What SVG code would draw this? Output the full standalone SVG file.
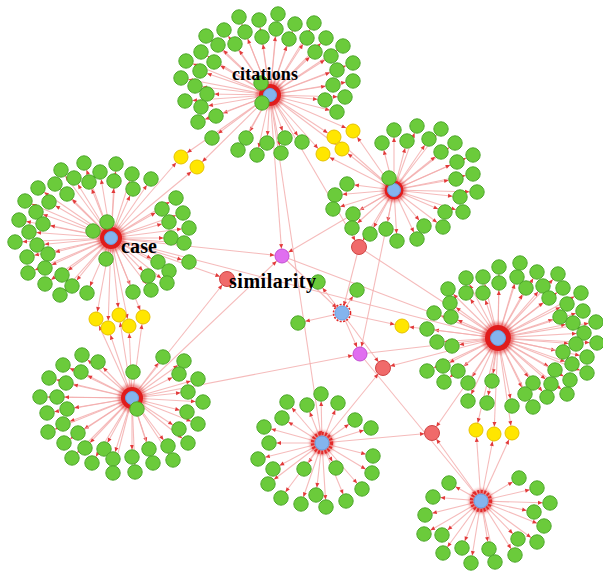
<svg xmlns="http://www.w3.org/2000/svg" width="603" height="572" viewBox="0 0 603 572">
<defs>
<marker id="ar" markerUnits="userSpaceOnUse" markerWidth="5" markerHeight="4" refX="12" refY="2" orient="auto" overflow="visible"><path d="M0,0L4.5,2L0,4z" fill="#e23a3a"/></marker>
<filter id="bl" x="-50%" y="-50%" width="200%" height="200%"><feGaussianBlur stdDeviation="1.6"/></filter>
</defs>
<style>
.e line{stroke:#f3aaaa;stroke-width:1.1;stroke-opacity:.8;marker-end:url(#ar)}
.lf circle{fill:#6bcb3b;stroke:#4ea82b;stroke-width:1;r:7.2px}
.y circle{fill:#ffe600;stroke:#e6c200;stroke-width:1}
.m circle{fill:#e06ef0;stroke:#c24fd2;stroke-width:1}
.r circle{fill:#f06a6a;stroke:#cf4545;stroke-width:1}
.halo{fill:#d22;opacity:.5;filter:url(#bl)}
.ring{fill:#e01c1c}
.dring{fill:none;stroke:#e22a2a;stroke-width:3.5;stroke-dasharray:2 1.4}
.core{fill:#84b4ee;stroke:#6a9ee0;stroke-width:1}
text{font-family:"Liberation Serif","Times New Roman",serif;font-weight:bold;fill:#000}
</style>
<rect width="603" height="572" fill="#fff"/>
<g id="connectors" class="e">
<line x1="270" y1="95" x2="278" y2="14"/><line x1="270" y1="95" x2="239" y2="17"/><line x1="270" y1="95" x2="259" y2="20"/><line x1="270" y1="95" x2="295" y2="24"/><line x1="270" y1="95" x2="314" y2="23"/><line x1="270" y1="95" x2="224" y2="30"/><line x1="270" y1="95" x2="245" y2="32"/><line x1="270" y1="95" x2="276" y2="29"/><line x1="270" y1="95" x2="206" y2="36"/><line x1="270" y1="95" x2="262" y2="37"/><line x1="270" y1="95" x2="289" y2="39"/><line x1="270" y1="95" x2="307" y2="38"/><line x1="270" y1="95" x2="326" y2="38"/><line x1="270" y1="95" x2="218" y2="45"/><line x1="270" y1="95" x2="235" y2="44"/><line x1="270" y1="95" x2="201" y2="52"/><line x1="270" y1="95" x2="315" y2="52"/><line x1="270" y1="95" x2="343" y2="46"/><line x1="270" y1="95" x2="186" y2="61"/><line x1="270" y1="95" x2="214" y2="62"/><line x1="270" y1="95" x2="331" y2="56"/><line x1="270" y1="95" x2="353" y2="63"/><line x1="270" y1="95" x2="200" y2="71"/><line x1="270" y1="95" x2="337" y2="70"/><line x1="270" y1="95" x2="181" y2="78"/><line x1="270" y1="95" x2="195" y2="86"/><line x1="270" y1="95" x2="353" y2="81"/><line x1="270" y1="95" x2="333" y2="85"/><line x1="270" y1="95" x2="207" y2="94"/><line x1="270" y1="95" x2="185" y2="101"/><line x1="270" y1="95" x2="201" y2="107"/><line x1="270" y1="95" x2="325" y2="100"/><line x1="270" y1="95" x2="345" y2="97"/><line x1="270" y1="95" x2="216" y2="116"/><line x1="270" y1="95" x2="198" y2="122"/><line x1="270" y1="95" x2="337" y2="112"/><line x1="270" y1="95" x2="212" y2="138"/><line x1="270" y1="95" x2="246" y2="138"/><line x1="270" y1="95" x2="267" y2="143"/><line x1="270" y1="95" x2="285" y2="138"/><line x1="270" y1="95" x2="302" y2="142"/><line x1="270" y1="95" x2="238" y2="150"/><line x1="270" y1="95" x2="257" y2="155"/><line x1="270" y1="95" x2="281" y2="153"/>
<line x1="111" y1="238" x2="61" y2="170"/><line x1="111" y1="238" x2="84" y2="163"/><line x1="111" y1="238" x2="116" y2="164"/><line x1="111" y1="238" x2="100" y2="172"/><line x1="111" y1="238" x2="74" y2="178"/><line x1="111" y1="238" x2="89" y2="182"/><line x1="111" y1="238" x2="114" y2="181"/><line x1="111" y1="238" x2="132" y2="174"/><line x1="111" y1="238" x2="151" y2="179"/><line x1="111" y1="238" x2="55" y2="184"/><line x1="111" y1="238" x2="38" y2="188"/><line x1="111" y1="238" x2="67" y2="194"/><line x1="111" y1="238" x2="133" y2="189"/><line x1="111" y1="238" x2="49" y2="202"/><line x1="111" y1="238" x2="25" y2="201"/><line x1="111" y1="238" x2="176" y2="198"/><line x1="111" y1="238" x2="162" y2="209"/><line x1="111" y1="238" x2="36" y2="212"/><line x1="111" y1="238" x2="183" y2="213"/><line x1="111" y1="238" x2="19" y2="220"/><line x1="111" y1="238" x2="43" y2="224"/><line x1="111" y1="238" x2="169" y2="222"/><line x1="111" y1="238" x2="29" y2="232"/><line x1="111" y1="238" x2="189" y2="228"/><line x1="111" y1="238" x2="15" y2="242"/><line x1="111" y1="238" x2="37" y2="245"/><line x1="111" y1="238" x2="171" y2="238"/><line x1="111" y1="238" x2="184" y2="243"/><line x1="111" y1="238" x2="27" y2="257"/><line x1="111" y1="238" x2="48" y2="254"/><line x1="111" y1="238" x2="158" y2="262"/><line x1="111" y1="238" x2="189" y2="262"/><line x1="111" y1="238" x2="45" y2="268"/><line x1="111" y1="238" x2="28" y2="273"/><line x1="111" y1="238" x2="62" y2="275"/><line x1="111" y1="238" x2="169" y2="271"/><line x1="111" y1="238" x2="148" y2="276"/><line x1="111" y1="238" x2="72" y2="286"/><line x1="111" y1="238" x2="45" y2="284"/><line x1="111" y1="238" x2="167" y2="283"/><line x1="111" y1="238" x2="133" y2="292"/><line x1="111" y1="238" x2="151" y2="290"/><line x1="111" y1="238" x2="60" y2="295"/><line x1="111" y1="238" x2="87" y2="293"/>
<line x1="394" y1="190" x2="394" y2="130"/><line x1="394" y1="190" x2="417" y2="126"/><line x1="394" y1="190" x2="441" y2="129"/><line x1="394" y1="190" x2="382" y2="143"/><line x1="394" y1="190" x2="407" y2="141"/><line x1="394" y1="190" x2="429" y2="139"/><line x1="394" y1="190" x2="455" y2="143"/><line x1="394" y1="190" x2="441" y2="152"/><line x1="394" y1="190" x2="473" y2="155"/><line x1="394" y1="190" x2="457" y2="162"/><line x1="394" y1="190" x2="473" y2="174"/><line x1="394" y1="190" x2="456" y2="179"/><line x1="394" y1="190" x2="347" y2="184"/><line x1="394" y1="190" x2="335" y2="195"/><line x1="394" y1="190" x2="477" y2="192"/><line x1="394" y1="190" x2="460" y2="197"/><line x1="394" y1="190" x2="333" y2="209"/><line x1="394" y1="190" x2="353" y2="214"/><line x1="394" y1="190" x2="445" y2="212"/><line x1="394" y1="190" x2="463" y2="212"/><line x1="394" y1="190" x2="352" y2="228"/><line x1="394" y1="190" x2="370" y2="234"/><line x1="394" y1="190" x2="386" y2="229"/><line x1="394" y1="190" x2="397" y2="241"/><line x1="394" y1="190" x2="417" y2="239"/><line x1="394" y1="190" x2="424" y2="226"/><line x1="394" y1="190" x2="443" y2="227"/>
<line x1="498" y1="338" x2="499" y2="267"/><line x1="498" y1="338" x2="520" y2="263"/><line x1="498" y1="338" x2="466" y2="278"/><line x1="498" y1="338" x2="483" y2="277"/><line x1="498" y1="338" x2="499" y2="283"/><line x1="498" y1="338" x2="517" y2="277"/><line x1="498" y1="338" x2="537" y2="272"/><line x1="498" y1="338" x2="558" y2="274"/><line x1="498" y1="338" x2="448" y2="289"/><line x1="498" y1="338" x2="466" y2="293"/><line x1="498" y1="338" x2="483" y2="293"/><line x1="498" y1="338" x2="526" y2="288"/><line x1="498" y1="338" x2="543" y2="286"/><line x1="498" y1="338" x2="563" y2="288"/><line x1="498" y1="338" x2="581" y2="293"/><line x1="498" y1="338" x2="450" y2="303"/><line x1="498" y1="338" x2="549" y2="298"/><line x1="498" y1="338" x2="567" y2="304"/><line x1="498" y1="338" x2="434" y2="313"/><line x1="498" y1="338" x2="451" y2="317"/><line x1="498" y1="338" x2="560" y2="317"/><line x1="498" y1="338" x2="583" y2="311"/><line x1="498" y1="338" x2="573" y2="323"/><line x1="498" y1="338" x2="596" y2="322"/><line x1="498" y1="338" x2="427" y2="329"/><line x1="498" y1="338" x2="584" y2="333"/><line x1="498" y1="338" x2="437" y2="342"/><line x1="498" y1="338" x2="452" y2="346"/><line x1="498" y1="338" x2="576" y2="344"/><line x1="498" y1="338" x2="597" y2="343"/><line x1="498" y1="338" x2="563" y2="352"/><line x1="498" y1="338" x2="587" y2="357"/><line x1="498" y1="338" x2="427" y2="371"/><line x1="498" y1="338" x2="443" y2="366"/><line x1="498" y1="338" x2="458" y2="371"/><line x1="498" y1="338" x2="572" y2="364"/><line x1="498" y1="338" x2="555" y2="370"/><line x1="498" y1="338" x2="587" y2="373"/><line x1="498" y1="338" x2="444" y2="382"/><line x1="498" y1="338" x2="468" y2="383"/><line x1="498" y1="338" x2="492" y2="381"/><line x1="498" y1="338" x2="533" y2="383"/><line x1="498" y1="338" x2="551" y2="384"/><line x1="498" y1="338" x2="570" y2="380"/><line x1="498" y1="338" x2="468" y2="401"/><line x1="498" y1="338" x2="487" y2="403"/><line x1="498" y1="338" x2="512" y2="406"/><line x1="498" y1="338" x2="525" y2="394"/><line x1="498" y1="338" x2="547" y2="397"/><line x1="498" y1="338" x2="567" y2="394"/><line x1="498" y1="338" x2="533" y2="407"/>
<line x1="132" y1="398" x2="82" y2="355"/><line x1="132" y1="398" x2="98" y2="362"/><line x1="132" y1="398" x2="63" y2="365"/><line x1="132" y1="398" x2="81" y2="372"/><line x1="132" y1="398" x2="163" y2="357"/><line x1="132" y1="398" x2="184" y2="361"/><line x1="132" y1="398" x2="49" y2="378"/><line x1="132" y1="398" x2="66" y2="383"/><line x1="132" y1="398" x2="179" y2="374"/><line x1="132" y1="398" x2="198" y2="379"/><line x1="132" y1="398" x2="40" y2="397"/><line x1="132" y1="398" x2="57" y2="397"/><line x1="132" y1="398" x2="188" y2="392"/><line x1="132" y1="398" x2="203" y2="402"/><line x1="132" y1="398" x2="47" y2="413"/><line x1="132" y1="398" x2="67" y2="409"/><line x1="132" y1="398" x2="187" y2="412"/><line x1="132" y1="398" x2="63" y2="424"/><line x1="132" y1="398" x2="48" y2="432"/><line x1="132" y1="398" x2="78" y2="433"/><line x1="132" y1="398" x2="198" y2="424"/><line x1="132" y1="398" x2="179" y2="429"/><line x1="132" y1="398" x2="64" y2="443"/><line x1="132" y1="398" x2="85" y2="448"/><line x1="132" y1="398" x2="104" y2="449"/><line x1="132" y1="398" x2="168" y2="446"/><line x1="132" y1="398" x2="188" y2="443"/><line x1="132" y1="398" x2="72" y2="458"/><line x1="132" y1="398" x2="92" y2="463"/><line x1="132" y1="398" x2="113" y2="459"/><line x1="132" y1="398" x2="132" y2="457"/><line x1="132" y1="398" x2="149" y2="449"/><line x1="132" y1="398" x2="153" y2="463"/><line x1="132" y1="398" x2="173" y2="460"/><line x1="132" y1="398" x2="113" y2="473"/><line x1="132" y1="398" x2="135" y2="472"/>
<line x1="322" y1="443" x2="321" y2="394"/><line x1="322" y1="443" x2="287" y2="402"/><line x1="322" y1="443" x2="307" y2="405"/><line x1="322" y1="443" x2="338" y2="403"/><line x1="322" y1="443" x2="282" y2="418"/><line x1="322" y1="443" x2="355" y2="420"/><line x1="322" y1="443" x2="264" y2="427"/><line x1="322" y1="443" x2="371" y2="428"/><line x1="322" y1="443" x2="269" y2="443"/><line x1="322" y1="443" x2="258" y2="459"/><line x1="322" y1="443" x2="373" y2="456"/><line x1="322" y1="443" x2="273" y2="469"/><line x1="322" y1="443" x2="304" y2="469"/><line x1="322" y1="443" x2="336" y2="468"/><line x1="322" y1="443" x2="372" y2="473"/><line x1="322" y1="443" x2="268" y2="484"/><line x1="322" y1="443" x2="362" y2="489"/><line x1="322" y1="443" x2="281" y2="498"/><line x1="322" y1="443" x2="316" y2="495"/><line x1="322" y1="443" x2="346" y2="501"/><line x1="322" y1="443" x2="301" y2="504"/><line x1="322" y1="443" x2="326" y2="507"/>
<line x1="481" y1="501" x2="449" y2="483"/><line x1="481" y1="501" x2="519" y2="478"/><line x1="481" y1="501" x2="433" y2="497"/><line x1="481" y1="501" x2="537" y2="488"/><line x1="481" y1="501" x2="550" y2="503"/><line x1="481" y1="501" x2="425" y2="515"/><line x1="481" y1="501" x2="534" y2="512"/><line x1="481" y1="501" x2="544" y2="526"/><line x1="481" y1="501" x2="424" y2="534"/><line x1="481" y1="501" x2="442" y2="535"/><line x1="481" y1="501" x2="518" y2="539"/><line x1="481" y1="501" x2="537" y2="542"/><line x1="481" y1="501" x2="443" y2="553"/><line x1="481" y1="501" x2="462" y2="548"/><line x1="481" y1="501" x2="489" y2="549"/><line x1="481" y1="501" x2="515" y2="555"/><line x1="481" y1="501" x2="471" y2="563"/><line x1="481" y1="501" x2="495" y2="562"/>
<line x1="342" y1="313" x2="318" y2="282"/><line x1="342" y1="313" x2="357" y2="290"/><line x1="342" y1="313" x2="298" y2="323"/>
<line x1="270" y1="95" x2="181" y2="157"/><line x1="111" y1="238" x2="181" y2="157"/><line x1="270" y1="95" x2="197" y2="167"/><line x1="111" y1="238" x2="197" y2="167"/>
<line x1="270" y1="95" x2="353" y2="131"/><line x1="394" y1="190" x2="353" y2="131"/><line x1="270" y1="95" x2="334" y2="137"/><line x1="394" y1="190" x2="334" y2="137"/><line x1="270" y1="95" x2="342" y2="149"/><line x1="394" y1="190" x2="342" y2="149"/><line x1="270" y1="95" x2="323" y2="154"/><line x1="394" y1="190" x2="323" y2="154"/>
<line x1="111" y1="238" x2="96" y2="319"/><line x1="132" y1="398" x2="96" y2="319"/><line x1="111" y1="238" x2="108" y2="328"/><line x1="132" y1="398" x2="108" y2="328"/><line x1="111" y1="238" x2="119" y2="315"/><line x1="132" y1="398" x2="119" y2="315"/><line x1="111" y1="238" x2="129" y2="326"/><line x1="132" y1="398" x2="129" y2="326"/><line x1="111" y1="238" x2="143" y2="317"/><line x1="132" y1="398" x2="143" y2="317"/>
<line x1="342" y1="313" x2="402" y2="326"/><line x1="498" y1="338" x2="402" y2="326"/>
<line x1="498" y1="338" x2="476" y2="430"/><line x1="481" y1="501" x2="476" y2="430"/><line x1="498" y1="338" x2="494" y2="434"/><line x1="481" y1="501" x2="494" y2="434"/><line x1="498" y1="338" x2="512" y2="433"/><line x1="481" y1="501" x2="512" y2="433"/>
<line x1="111" y1="238" x2="282" y2="256"/><line x1="270" y1="95" x2="282" y2="256"/><line x1="394" y1="190" x2="282" y2="256"/><line x1="132" y1="398" x2="282" y2="256"/>
<line x1="282" y1="256" x2="498" y2="338"/><line x1="282" y1="256" x2="342" y2="313"/><line x1="111" y1="238" x2="498" y2="338"/>
<line x1="111" y1="238" x2="227" y2="279"/><line x1="132" y1="398" x2="227" y2="279"/>
<line x1="270" y1="95" x2="322" y2="443"/>
<line x1="270" y1="95" x2="359" y2="247"/><line x1="394" y1="190" x2="359" y2="247"/><line x1="359" y1="247" x2="498" y2="338"/><line x1="359" y1="247" x2="342" y2="313"/>
<line x1="394" y1="190" x2="360" y2="354"/><line x1="132" y1="398" x2="360" y2="354"/><line x1="342" y1="313" x2="360" y2="354"/><line x1="360" y1="354" x2="498" y2="338"/><line x1="360" y1="354" x2="481" y2="501"/>
<line x1="342" y1="313" x2="383" y2="368"/><line x1="498" y1="338" x2="383" y2="368"/><line x1="322" y1="443" x2="383" y2="368"/>
<line x1="322" y1="443" x2="432" y2="433"/><line x1="498" y1="338" x2="432" y2="433"/><line x1="481" y1="501" x2="432" y2="433"/>
</g>
<g id="hub-citations"><circle class="halo" cx="270" cy="95" r="14"/><circle class="ring" cx="270" cy="95" r="11"/><circle class="core" cx="270" cy="95" r="6.5"/></g>
<g id="hub-case"><circle class="halo" cx="111" cy="238" r="14"/><circle class="ring" cx="111" cy="238" r="11"/><circle class="core" cx="111" cy="238" r="6.5"/></g>
<g id="hub-3"><circle class="halo" cx="394" cy="190" r="12"/><circle class="ring" cx="394" cy="190" r="9.5"/><circle class="core" cx="394" cy="190" r="6.5"/></g>
<g id="hub-4"><circle class="halo" cx="498" cy="338" r="16"/><circle class="ring" cx="498" cy="338" r="13"/><circle class="core" cx="498" cy="338" r="7.5"/></g>
<g id="hub-5"><circle class="halo" cx="132" cy="398" r="14"/><circle class="ring" cx="132" cy="398" r="11"/><circle class="core" cx="132" cy="398" r="6.5"/></g>
<g id="hub-6"><circle class="halo" cx="322" cy="443" r="12" opacity=".3"/><circle class="dring" cx="322" cy="443" r="9.5"/><circle class="core" cx="322" cy="443" r="7"/></g>
<g id="hub-7"><circle class="halo" cx="481" cy="501" r="12" opacity=".3"/><circle class="dring" cx="481" cy="501" r="9.5"/><circle class="core" cx="481" cy="501" r="7"/></g>
<g id="hub-mid"><circle class="dring" cx="342" cy="313" r="8.5" style="stroke-width:1.6"/><circle class="core" cx="342" cy="313" r="7"/></g>
<g class="y">
<g id="y1"><circle cx="181" cy="157" r="7"/></g><g id="y2"><circle cx="197" cy="167" r="7"/></g><g id="y3"><circle cx="353" cy="131" r="7"/></g><g id="y4"><circle cx="334" cy="137" r="7"/></g><g id="y5"><circle cx="342" cy="149" r="7"/></g><g id="y6"><circle cx="323" cy="154" r="7"/></g><g id="y7"><circle cx="96" cy="319" r="7"/></g><g id="y8"><circle cx="108" cy="328" r="7"/></g><g id="y9"><circle cx="119" cy="315" r="7"/></g><g id="y10"><circle cx="129" cy="326" r="7"/></g><g id="y11"><circle cx="143" cy="317" r="7"/></g><g id="y12"><circle cx="402" cy="326" r="7"/></g><g id="y13"><circle cx="476" cy="430" r="7"/></g><g id="y14"><circle cx="494" cy="434" r="7"/></g><g id="y15"><circle cx="512" cy="433" r="7"/></g>
</g>
<g class="m"><g id="m1"><circle cx="282" cy="256" r="7"/></g><g id="m2"><circle cx="360" cy="354" r="7"/></g></g>
<g class="r"><g id="r1"><circle cx="227" cy="279" r="7.5"/></g><g id="r2"><circle cx="359" cy="247" r="7.5"/></g><g id="r3"><circle cx="383" cy="368" r="7.5"/></g><g id="r4"><circle cx="432" cy="433" r="7.5"/></g></g>
<g class="lf">
<g id="a1"><circle cx="278" cy="14" r="7.2"/></g><g id="a2"><circle cx="239" cy="17" r="7.2"/></g><g id="a3"><circle cx="259" cy="20" r="7.2"/></g><g id="a4"><circle cx="295" cy="24" r="7.2"/></g><g id="a5"><circle cx="314" cy="23" r="7.2"/></g><g id="a6"><circle cx="224" cy="30" r="7.2"/></g><g id="a7"><circle cx="245" cy="32" r="7.2"/></g><g id="a8"><circle cx="276" cy="29" r="7.2"/></g><g id="a9"><circle cx="206" cy="36" r="7.2"/></g><g id="a10"><circle cx="262" cy="37" r="7.2"/></g><g id="a11"><circle cx="289" cy="39" r="7.2"/></g><g id="a12"><circle cx="307" cy="38" r="7.2"/></g><g id="a13"><circle cx="326" cy="38" r="7.2"/></g><g id="a14"><circle cx="218" cy="45" r="7.2"/></g><g id="a15"><circle cx="235" cy="44" r="7.2"/></g><g id="a16"><circle cx="201" cy="52" r="7.2"/></g><g id="a17"><circle cx="315" cy="52" r="7.2"/></g><g id="a18"><circle cx="343" cy="46" r="7.2"/></g><g id="a19"><circle cx="186" cy="61" r="7.2"/></g><g id="a20"><circle cx="214" cy="62" r="7.2"/></g><g id="a21"><circle cx="331" cy="56" r="7.2"/></g><g id="a22"><circle cx="353" cy="63" r="7.2"/></g><g id="a23"><circle cx="200" cy="71" r="7.2"/></g><g id="a24"><circle cx="337" cy="70" r="7.2"/></g><g id="a25"><circle cx="181" cy="78" r="7.2"/></g><g id="a26"><circle cx="195" cy="86" r="7.2"/></g><g id="a27"><circle cx="353" cy="81" r="7.2"/></g><g id="a28"><circle cx="333" cy="85" r="7.2"/></g><g id="a29"><circle cx="207" cy="94" r="7.2"/></g><g id="a30"><circle cx="261" cy="83" r="7.2"/></g><g id="a31"><circle cx="185" cy="101" r="7.2"/></g><g id="a32"><circle cx="201" cy="107" r="7.2"/></g><g id="a33"><circle cx="325" cy="100" r="7.2"/></g><g id="a34"><circle cx="345" cy="97" r="7.2"/></g><g id="a35"><circle cx="262" cy="103" r="7.2"/></g><g id="a36"><circle cx="216" cy="116" r="7.2"/></g><g id="a37"><circle cx="198" cy="122" r="7.2"/></g><g id="a38"><circle cx="337" cy="112" r="7.2"/></g><g id="a39"><circle cx="212" cy="138" r="7.2"/></g><g id="a40"><circle cx="246" cy="138" r="7.2"/></g><g id="a41"><circle cx="267" cy="143" r="7.2"/></g><g id="a42"><circle cx="285" cy="138" r="7.2"/></g><g id="a43"><circle cx="302" cy="142" r="7.2"/></g><g id="a44"><circle cx="238" cy="150" r="7.2"/></g><g id="a45"><circle cx="257" cy="155" r="7.2"/></g><g id="a46"><circle cx="281" cy="153" r="7.2"/></g>
<g id="b1"><circle cx="61" cy="170" r="7.2"/></g><g id="b2"><circle cx="84" cy="163" r="7.2"/></g><g id="b3"><circle cx="116" cy="164" r="7.2"/></g><g id="b4"><circle cx="100" cy="172" r="7.2"/></g><g id="b5"><circle cx="74" cy="178" r="7.2"/></g><g id="b6"><circle cx="89" cy="182" r="7.2"/></g><g id="b7"><circle cx="114" cy="181" r="7.2"/></g><g id="b8"><circle cx="132" cy="174" r="7.2"/></g><g id="b9"><circle cx="151" cy="179" r="7.2"/></g><g id="b10"><circle cx="55" cy="184" r="7.2"/></g><g id="b11"><circle cx="38" cy="188" r="7.2"/></g><g id="b12"><circle cx="67" cy="194" r="7.2"/></g><g id="b13"><circle cx="133" cy="189" r="7.2"/></g><g id="b14"><circle cx="49" cy="202" r="7.2"/></g><g id="b15"><circle cx="25" cy="201" r="7.2"/></g><g id="b16"><circle cx="176" cy="198" r="7.2"/></g><g id="b17"><circle cx="162" cy="209" r="7.2"/></g><g id="b18"><circle cx="36" cy="212" r="7.2"/></g><g id="b19"><circle cx="183" cy="213" r="7.2"/></g><g id="b20"><circle cx="19" cy="220" r="7.2"/></g><g id="b21"><circle cx="43" cy="224" r="7.2"/></g><g id="b22"><circle cx="107" cy="222" r="7.2"/></g><g id="b23"><circle cx="169" cy="222" r="7.2"/></g><g id="b24"><circle cx="29" cy="232" r="7.2"/></g><g id="b25"><circle cx="93" cy="231" r="7.2"/></g><g id="b26"><circle cx="189" cy="228" r="7.2"/></g><g id="b27"><circle cx="15" cy="242" r="7.2"/></g><g id="b28"><circle cx="37" cy="245" r="7.2"/></g><g id="b29"><circle cx="171" cy="238" r="7.2"/></g><g id="b30"><circle cx="184" cy="243" r="7.2"/></g><g id="b31"><circle cx="27" cy="257" r="7.2"/></g><g id="b32"><circle cx="48" cy="254" r="7.2"/></g><g id="b33"><circle cx="106" cy="259" r="7.2"/></g><g id="b34"><circle cx="158" cy="262" r="7.2"/></g><g id="b35"><circle cx="189" cy="262" r="7.2"/></g><g id="b36"><circle cx="45" cy="268" r="7.2"/></g><g id="b37"><circle cx="28" cy="273" r="7.2"/></g><g id="b38"><circle cx="62" cy="275" r="7.2"/></g><g id="b39"><circle cx="169" cy="271" r="7.2"/></g><g id="b40"><circle cx="148" cy="276" r="7.2"/></g><g id="b41"><circle cx="72" cy="286" r="7.2"/></g><g id="b42"><circle cx="45" cy="284" r="7.2"/></g><g id="b43"><circle cx="167" cy="283" r="7.2"/></g><g id="b44"><circle cx="133" cy="292" r="7.2"/></g><g id="b45"><circle cx="151" cy="290" r="7.2"/></g><g id="b46"><circle cx="60" cy="295" r="7.2"/></g><g id="b47"><circle cx="87" cy="293" r="7.2"/></g>
<g id="c1"><circle cx="394" cy="130" r="7.2"/></g><g id="c2"><circle cx="417" cy="126" r="7.2"/></g><g id="c3"><circle cx="441" cy="129" r="7.2"/></g><g id="c4"><circle cx="382" cy="143" r="7.2"/></g><g id="c5"><circle cx="407" cy="141" r="7.2"/></g><g id="c6"><circle cx="429" cy="139" r="7.2"/></g><g id="c7"><circle cx="455" cy="143" r="7.2"/></g><g id="c8"><circle cx="441" cy="152" r="7.2"/></g><g id="c9"><circle cx="473" cy="155" r="7.2"/></g><g id="c10"><circle cx="457" cy="162" r="7.2"/></g><g id="c11"><circle cx="473" cy="174" r="7.2"/></g><g id="c12"><circle cx="456" cy="179" r="7.2"/></g><g id="c13"><circle cx="389" cy="178" r="7.2"/></g><g id="c14"><circle cx="347" cy="184" r="7.2"/></g><g id="c15"><circle cx="335" cy="195" r="7.2"/></g><g id="c16"><circle cx="477" cy="192" r="7.2"/></g><g id="c17"><circle cx="460" cy="197" r="7.2"/></g><g id="c18"><circle cx="333" cy="209" r="7.2"/></g><g id="c19"><circle cx="353" cy="214" r="7.2"/></g><g id="c20"><circle cx="445" cy="212" r="7.2"/></g><g id="c21"><circle cx="463" cy="212" r="7.2"/></g><g id="c22"><circle cx="352" cy="228" r="7.2"/></g><g id="c23"><circle cx="370" cy="234" r="7.2"/></g><g id="c24"><circle cx="386" cy="229" r="7.2"/></g><g id="c25"><circle cx="397" cy="241" r="7.2"/></g><g id="c26"><circle cx="417" cy="239" r="7.2"/></g><g id="c27"><circle cx="424" cy="226" r="7.2"/></g><g id="c28"><circle cx="443" cy="227" r="7.2"/></g>
<g id="d1"><circle cx="499" cy="267" r="7.2"/></g><g id="d2"><circle cx="520" cy="263" r="7.2"/></g><g id="d3"><circle cx="466" cy="278" r="7.2"/></g><g id="d4"><circle cx="483" cy="277" r="7.2"/></g><g id="d5"><circle cx="499" cy="283" r="7.2"/></g><g id="d6"><circle cx="517" cy="277" r="7.2"/></g><g id="d7"><circle cx="537" cy="272" r="7.2"/></g><g id="d8"><circle cx="558" cy="274" r="7.2"/></g><g id="d9"><circle cx="448" cy="289" r="7.2"/></g><g id="d10"><circle cx="466" cy="293" r="7.2"/></g><g id="d11"><circle cx="483" cy="293" r="7.2"/></g><g id="d12"><circle cx="526" cy="288" r="7.2"/></g><g id="d13"><circle cx="543" cy="286" r="7.2"/></g><g id="d14"><circle cx="563" cy="288" r="7.2"/></g><g id="d15"><circle cx="581" cy="293" r="7.2"/></g><g id="d16"><circle cx="450" cy="303" r="7.2"/></g><g id="d17"><circle cx="549" cy="298" r="7.2"/></g><g id="d18"><circle cx="567" cy="304" r="7.2"/></g><g id="d19"><circle cx="434" cy="313" r="7.2"/></g><g id="d20"><circle cx="451" cy="317" r="7.2"/></g><g id="d21"><circle cx="560" cy="317" r="7.2"/></g><g id="d22"><circle cx="583" cy="311" r="7.2"/></g><g id="d23"><circle cx="573" cy="323" r="7.2"/></g><g id="d24"><circle cx="596" cy="322" r="7.2"/></g><g id="d25"><circle cx="427" cy="329" r="7.2"/></g><g id="d26"><circle cx="584" cy="333" r="7.2"/></g><g id="d27"><circle cx="437" cy="342" r="7.2"/></g><g id="d28"><circle cx="452" cy="346" r="7.2"/></g><g id="d29"><circle cx="576" cy="344" r="7.2"/></g><g id="d30"><circle cx="597" cy="343" r="7.2"/></g><g id="d31"><circle cx="563" cy="352" r="7.2"/></g><g id="d32"><circle cx="587" cy="357" r="7.2"/></g><g id="d33"><circle cx="427" cy="371" r="7.2"/></g><g id="d34"><circle cx="443" cy="366" r="7.2"/></g><g id="d35"><circle cx="458" cy="371" r="7.2"/></g><g id="d36"><circle cx="572" cy="364" r="7.2"/></g><g id="d37"><circle cx="555" cy="370" r="7.2"/></g><g id="d38"><circle cx="587" cy="373" r="7.2"/></g><g id="d39"><circle cx="444" cy="382" r="7.2"/></g><g id="d40"><circle cx="468" cy="383" r="7.2"/></g><g id="d41"><circle cx="492" cy="381" r="7.2"/></g><g id="d42"><circle cx="533" cy="383" r="7.2"/></g><g id="d43"><circle cx="551" cy="384" r="7.2"/></g><g id="d44"><circle cx="570" cy="380" r="7.2"/></g><g id="d45"><circle cx="468" cy="401" r="7.2"/></g><g id="d46"><circle cx="487" cy="403" r="7.2"/></g><g id="d47"><circle cx="512" cy="406" r="7.2"/></g><g id="d48"><circle cx="525" cy="394" r="7.2"/></g><g id="d49"><circle cx="547" cy="397" r="7.2"/></g><g id="d50"><circle cx="567" cy="394" r="7.2"/></g><g id="d51"><circle cx="533" cy="407" r="7.2"/></g>
<g id="e1"><circle cx="82" cy="355" r="7.2"/></g><g id="e2"><circle cx="98" cy="362" r="7.2"/></g><g id="e3"><circle cx="63" cy="365" r="7.2"/></g><g id="e4"><circle cx="81" cy="372" r="7.2"/></g><g id="e5"><circle cx="133" cy="372" r="7.2"/></g><g id="e6"><circle cx="163" cy="357" r="7.2"/></g><g id="e7"><circle cx="184" cy="361" r="7.2"/></g><g id="e8"><circle cx="49" cy="378" r="7.2"/></g><g id="e9"><circle cx="66" cy="383" r="7.2"/></g><g id="e10"><circle cx="179" cy="374" r="7.2"/></g><g id="e11"><circle cx="198" cy="379" r="7.2"/></g><g id="e12"><circle cx="40" cy="397" r="7.2"/></g><g id="e13"><circle cx="57" cy="397" r="7.2"/></g><g id="e14"><circle cx="188" cy="392" r="7.2"/></g><g id="e15"><circle cx="203" cy="402" r="7.2"/></g><g id="e16"><circle cx="137" cy="409" r="7.2"/></g><g id="e17"><circle cx="47" cy="413" r="7.2"/></g><g id="e18"><circle cx="67" cy="409" r="7.2"/></g><g id="e19"><circle cx="187" cy="412" r="7.2"/></g><g id="e20"><circle cx="63" cy="424" r="7.2"/></g><g id="e21"><circle cx="48" cy="432" r="7.2"/></g><g id="e22"><circle cx="78" cy="433" r="7.2"/></g><g id="e23"><circle cx="198" cy="424" r="7.2"/></g><g id="e24"><circle cx="179" cy="429" r="7.2"/></g><g id="e25"><circle cx="64" cy="443" r="7.2"/></g><g id="e26"><circle cx="85" cy="448" r="7.2"/></g><g id="e27"><circle cx="104" cy="449" r="7.2"/></g><g id="e28"><circle cx="168" cy="446" r="7.2"/></g><g id="e29"><circle cx="188" cy="443" r="7.2"/></g><g id="e30"><circle cx="72" cy="458" r="7.2"/></g><g id="e31"><circle cx="92" cy="463" r="7.2"/></g><g id="e32"><circle cx="113" cy="459" r="7.2"/></g><g id="e33"><circle cx="132" cy="457" r="7.2"/></g><g id="e34"><circle cx="149" cy="449" r="7.2"/></g><g id="e35"><circle cx="153" cy="463" r="7.2"/></g><g id="e36"><circle cx="173" cy="460" r="7.2"/></g><g id="e37"><circle cx="113" cy="473" r="7.2"/></g><g id="e38"><circle cx="135" cy="472" r="7.2"/></g>
<g id="f1"><circle cx="321" cy="394" r="7.2"/></g><g id="f2"><circle cx="287" cy="402" r="7.2"/></g><g id="f3"><circle cx="307" cy="405" r="7.2"/></g><g id="f4"><circle cx="338" cy="403" r="7.2"/></g><g id="f5"><circle cx="282" cy="418" r="7.2"/></g><g id="f6"><circle cx="355" cy="420" r="7.2"/></g><g id="f7"><circle cx="264" cy="427" r="7.2"/></g><g id="f8"><circle cx="371" cy="428" r="7.2"/></g><g id="f9"><circle cx="269" cy="443" r="7.2"/></g><g id="f10"><circle cx="258" cy="459" r="7.2"/></g><g id="f11"><circle cx="373" cy="456" r="7.2"/></g><g id="f12"><circle cx="273" cy="469" r="7.2"/></g><g id="f13"><circle cx="304" cy="469" r="7.2"/></g><g id="f14"><circle cx="336" cy="468" r="7.2"/></g><g id="f15"><circle cx="372" cy="473" r="7.2"/></g><g id="f16"><circle cx="268" cy="484" r="7.2"/></g><g id="f17"><circle cx="362" cy="489" r="7.2"/></g><g id="f18"><circle cx="281" cy="498" r="7.2"/></g><g id="f19"><circle cx="316" cy="495" r="7.2"/></g><g id="f20"><circle cx="346" cy="501" r="7.2"/></g><g id="f21"><circle cx="301" cy="504" r="7.2"/></g><g id="f22"><circle cx="326" cy="507" r="7.2"/></g>
<g id="g1"><circle cx="449" cy="483" r="7.2"/></g><g id="g2"><circle cx="519" cy="478" r="7.2"/></g><g id="g3"><circle cx="433" cy="497" r="7.2"/></g><g id="g4"><circle cx="537" cy="488" r="7.2"/></g><g id="g5"><circle cx="550" cy="503" r="7.2"/></g><g id="g6"><circle cx="425" cy="515" r="7.2"/></g><g id="g7"><circle cx="534" cy="512" r="7.2"/></g><g id="g8"><circle cx="544" cy="526" r="7.2"/></g><g id="g9"><circle cx="424" cy="534" r="7.2"/></g><g id="g10"><circle cx="442" cy="535" r="7.2"/></g><g id="g11"><circle cx="518" cy="539" r="7.2"/></g><g id="g12"><circle cx="537" cy="542" r="7.2"/></g><g id="g13"><circle cx="443" cy="553" r="7.2"/></g><g id="g14"><circle cx="462" cy="548" r="7.2"/></g><g id="g15"><circle cx="489" cy="549" r="7.2"/></g><g id="g16"><circle cx="515" cy="555" r="7.2"/></g><g id="g17"><circle cx="471" cy="563" r="7.2"/></g><g id="g18"><circle cx="495" cy="562" r="7.2"/></g>
<g id="k1"><circle cx="318" cy="282" r="7.2"/></g><g id="k2"><circle cx="357" cy="290" r="7.2"/></g><g id="k3"><circle cx="298" cy="323" r="7.2"/></g>
</g>
<g id="labels">
<text x="232" y="80" font-size="18" textLength="66">citations</text>
<text x="121" y="253" font-size="20" textLength="36">case</text>
<text x="229" y="288" font-size="20" textLength="87">similarity</text>
</g>
</svg>
